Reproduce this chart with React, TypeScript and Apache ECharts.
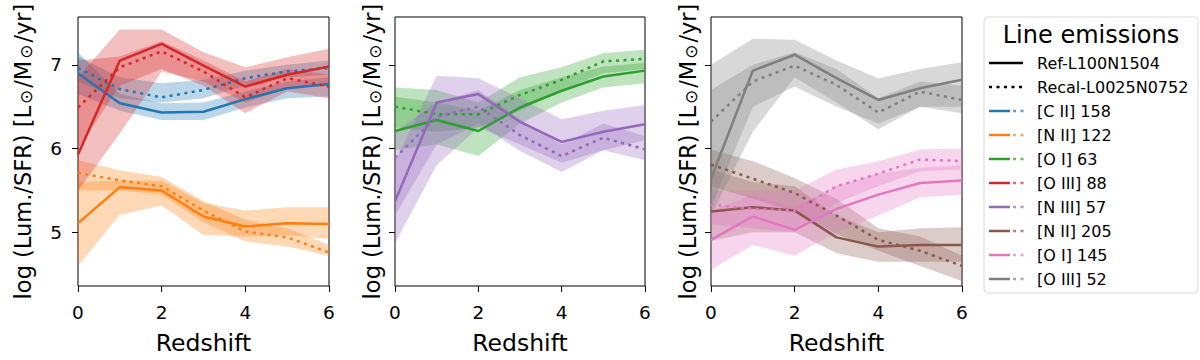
import React, { useEffect, useRef } from "react";
import * as echarts from "echarts";

const redshift = [0, 1, 2, 3, 4, 5, 6];
const yTicks = [5, 6, 7];
const xTicks = [0, 2, 4, 6];

// [C II] 158
const cii158Ref = [6.90, 6.54, 6.43, 6.44, 6.59, 6.72, 6.77];
const cii158Recal = [6.96, 6.71, 6.61, 6.70, 6.84, 6.92, 6.96];
const cii158RefLo = [6.65, 6.45, 6.34, 6.34, 6.49, 6.60, 6.62];
const cii158RefHi = [7.15, 6.65, 6.54, 6.55, 6.68, 6.80, 6.85];
const cii158RecalLo = [6.80, 6.60, 6.55, 6.60, 6.75, 6.85, 6.88];
const cii158RecalHi = [7.10, 6.85, 6.78, 6.82, 6.93, 7.00, 7.05];

// [N II] 122
const nii122Ref = [5.11, 5.54, 5.50, 5.19, 5.07, 5.11, 5.10];
const nii122Recal = [5.71, 5.62, 5.55, 5.26, 5.01, 4.94, 4.76];
const nii122RefLo = [4.60, 5.21, 5.32, 4.97, 4.95, 4.97, 4.92];
const nii122RefHi = [5.60, 5.62, 5.62, 5.35, 5.26, 5.30, 5.30];
const nii122RecalLo = [5.50, 5.50, 5.45, 5.12, 4.89, 4.83, 4.72];
const nii122RecalHi = [5.86, 5.74, 5.66, 5.37, 5.15, 5.05, 4.85];

// [O III] 88
const oiii88Ref = [5.93, 7.05, 7.25, 6.99, 6.74, 6.88, 6.98];
const oiii88Recal = [6.49, 6.97, 7.16, 6.92, 6.61, 6.84, 6.74];
const oiii88RefLo = [5.50, 6.18, 6.92, 6.80, 6.55, 6.72, 6.75];
const oiii88RefHi = [6.85, 7.42, 7.42, 7.15, 6.97, 7.09, 7.19];
const oiii88RecalLo = [6.00, 6.75, 6.95, 6.75, 6.42, 6.68, 6.60];
const oiii88RecalHi = [7.05, 7.10, 7.28, 7.05, 6.80, 6.95, 6.88];

// [O I] 63
const oi63Ref = [6.21, 6.34, 6.21, 6.49, 6.69, 6.86, 6.93];
const oi63Recal = [6.50, 6.41, 6.41, 6.64, 6.82, 7.04, 7.07];
const oi63RefLo = [5.98, 6.05, 5.91, 6.30, 6.55, 6.73, 6.78];
const oi63RefHi = [6.62, 6.55, 6.45, 6.70, 6.85, 6.98, 7.02];
const oi63RecalLo = [6.25, 6.20, 6.25, 6.45, 6.70, 6.90, 6.95];
const oi63RecalHi = [6.73, 6.70, 6.55, 6.85, 6.97, 7.14, 7.18];

// [N III] 57
const niii57Ref = [5.37, 6.55, 6.65, 6.32, 6.08, 6.20, 6.29];
const niii57Recal = [5.89, 6.38, 6.50, 6.16, 5.91, 6.13, 5.99];
const niii57RefLo = [4.87, 5.80, 6.25, 6.05, 5.83, 5.98, 6.10];
const niii57RefHi = [5.85, 6.87, 6.84, 6.60, 6.35, 6.45, 6.52];
const niii57RecalLo = [5.20, 6.05, 6.30, 5.97, 5.72, 5.98, 5.86];
const niii57RecalHi = [6.20, 6.55, 6.70, 6.35, 6.05, 6.30, 6.15];

// [N II] 205
const nii205Ref = [5.25, 5.30, 5.26, 4.94, 4.83, 4.85, 4.85];
const nii205Recal = [5.81, 5.64, 5.47, 5.20, 4.91, 4.78, 4.60];
const nii205RefLo = [4.90, 5.00, 5.00, 4.75, 4.65, 4.65, 4.65];
const nii205RefHi = [5.75, 5.60, 5.55, 5.20, 5.00, 5.05, 5.06];
const nii205RecalLo = [5.55, 5.40, 5.25, 4.98, 4.78, 4.60, 4.42];
const nii205RecalHi = [5.99, 5.85, 5.65, 5.40, 5.05, 4.95, 4.72];

// [O I] 145
const oi145Ref = [4.91, 5.19, 5.03, 5.28, 5.45, 5.59, 5.62];
const oi145Recal = [5.33, 5.28, 5.26, 5.55, 5.70, 5.87, 5.85];
const oi145RefLo = [4.55, 4.85, 4.72, 5.00, 5.20, 5.42, 5.45];
const oi145RefHi = [5.25, 5.45, 5.30, 5.55, 5.70, 5.77, 5.80];
const oi145RecalLo = [5.10, 5.05, 5.00, 5.35, 5.55, 5.73, 5.75];
const oi145RecalHi = [5.50, 5.50, 5.50, 5.75, 5.85, 5.99, 6.00];

// [O III] 52
const oiii52Ref = [5.64, 6.93, 7.12, 6.84, 6.58, 6.72, 6.82];
const oiii52Recal = [6.32, 6.80, 6.99, 6.76, 6.43, 6.68, 6.58];
const oiii52RefLo = [5.30, 6.50, 6.74, 6.50, 6.30, 6.50, 6.50];
const oiii52RefHi = [7.00, 7.31, 7.30, 7.05, 6.84, 6.95, 7.03];
const oiii52RecalLo = [5.20, 6.20, 6.85, 6.55, 6.23, 6.50, 6.42];
const oiii52RecalHi = [6.70, 7.00, 7.15, 6.95, 6.60, 6.80, 6.75];

const modelNames = ["Ref-L100N1504", "Recal-L0025N0752"];
const legendTitle = "Line emissions";

type Line = {
  name: string; color: string;
  ref: number[]; recal: number[];
  refLo: number[]; refHi: number[]; recalLo: number[]; recalHi: number[];
};

const lines: Line[] = [
  { name: "[C II] 158", color: "#1f77b4", ref: cii158Ref, recal: cii158Recal, refLo: cii158RefLo, refHi: cii158RefHi, recalLo: cii158RecalLo, recalHi: cii158RecalHi },
  { name: "[N II] 122", color: "#ff7f0e", ref: nii122Ref, recal: nii122Recal, refLo: nii122RefLo, refHi: nii122RefHi, recalLo: nii122RecalLo, recalHi: nii122RecalHi },
  { name: "[O I] 63", color: "#2ca02c", ref: oi63Ref, recal: oi63Recal, refLo: oi63RefLo, refHi: oi63RefHi, recalLo: oi63RecalLo, recalHi: oi63RecalHi },
  { name: "[O III] 88", color: "#d62728", ref: oiii88Ref, recal: oiii88Recal, refLo: oiii88RefLo, refHi: oiii88RefHi, recalLo: oiii88RecalLo, recalHi: oiii88RecalHi },
  { name: "[N III] 57", color: "#9467bd", ref: niii57Ref, recal: niii57Recal, refLo: niii57RefLo, refHi: niii57RefHi, recalLo: niii57RecalLo, recalHi: niii57RecalHi },
  { name: "[N II] 205", color: "#8c564b", ref: nii205Ref, recal: nii205Recal, refLo: nii205RefLo, refHi: nii205RefHi, recalLo: nii205RecalLo, recalHi: nii205RecalHi },
  { name: "[O I] 145", color: "#e377c2", ref: oi145Ref, recal: oi145Recal, refLo: oi145RefLo, refHi: oi145RefHi, recalLo: oi145RecalLo, recalHi: oi145RecalHi },
  { name: "[O III] 52", color: "#7f7f7f", ref: oiii52Ref, recal: oiii52Recal, refLo: oiii52RefLo, refHi: oiii52RefHi, recalLo: oiii52RecalLo, recalHi: oiii52RecalHi },
];

const panelLines = [
  ["[C II] 158", "[N II] 122", "[O III] 88"],
  ["[O I] 63", "[N III] 57"],
  ["[N II] 205", "[O I] 145", "[O III] 52"],
];

const FONT = "DejaVu Sans";
const DOT: number[] = [3, 4.5];

function bandSeries(p: number, lo: number[], hi: number[], color: string) {
  const rows = redshift.map((x, i) => [x, lo[i], hi[i]]);
  return {
    type: "custom", xAxisIndex: p, yAxisIndex: p, silent: true, z: 1,
    clip: true,
    encode: { x: 0, y: [1, 2] },
    data: rows,
    renderItem: (params: any, api: any) => {
      if (params.dataIndex !== 0) return null;
      const upper = rows.map((r) => api.coord([r[0], r[2]]));
      const lower = rows.map((r) => api.coord([r[0], r[1]])).reverse();
      return {
        type: "polygon",
        shape: { points: upper.concat(lower) },
        style: { fill: color, opacity: 0.3 },
      };
    },
  };
}

function buildOption() {
  const gridLefts = [78, 395, 711];
  const gridWidths = [251, 250, 251];
  const grids = gridLefts.map((l, i) => ({
    left: l, top: 17, width: gridWidths[i], height: 277,
    show: true, borderColor: "#000", borderWidth: 1, backgroundColor: "transparent",
  }));
  const xAxes = gridLefts.map((_, i) => ({
    gridIndex: i, type: "value", min: 0, max: 6, interval: 2,
    axisLine: { show: false },
    axisTick: { show: true, length: 6, lineStyle: { color: "#000", width: 1 }, customValues: xTicks },
    axisLabel: { fontSize: 18.5, color: "#000", margin: 17, fontFamily: FONT, customValues: xTicks },
    splitLine: { show: false },
    name: "Redshift", nameLocation: "middle", nameGap: 45,
    nameTextStyle: { fontSize: 23.5, color: "#000", fontFamily: FONT },
  }));
  const yName = "{n|log (Lum./SFR) [L}{s|⊙}{n|/M}{s|⊙}{n|/yr]}";
  const yAxes = gridLefts.map((_, i) => ({
    gridIndex: i, type: "value", min: 4.36, max: 7.57,
    axisLine: { show: false },
    axisTick: { show: true, length: 6, lineStyle: { color: "#000", width: 1 }, customValues: yTicks },
    axisLabel: { show: i === 0, fontSize: 18.5, color: "#000", margin: 16, fontFamily: FONT, customValues: yTicks },
    splitLine: { show: false },
    name: yName, nameLocation: "middle", nameGap: i === 0 ? 44 : 12,
    nameTextStyle: {
      color: "#000", fontFamily: FONT,
      rich: {
        n: { fontSize: 22.5, color: "#000", fontFamily: FONT },
        s: { fontSize: 17, color: "#000", fontFamily: FONT, verticalAlign: "bottom", padding: [0, 2, 0, 2] },
      },
    },
  }));

  const series: any[] = [];
  panelLines.forEach((names, p) => {
    names.forEach((nm) => {
      const L = lines.find((l) => l.name === nm)!;
      series.push(bandSeries(p, L.refLo, L.refHi, L.color));
      series.push(bandSeries(p, L.recalLo, L.recalHi, L.color));
    });
    names.forEach((nm) => {
      const L = lines.find((l) => l.name === nm)!;
      series.push({
        type: "line", xAxisIndex: p, yAxisIndex: p, name: nm,
        data: L.ref.map((v, i) => [redshift[i], v]),
        symbol: "none", lineStyle: { color: L.color, width: 2.5, type: "solid" }, z: 3,
      });
      series.push({
        type: "line", xAxisIndex: p, yAxisIndex: p, name: nm + " recal",
        data: L.recal.map((v, i) => [redshift[i], v]),
        symbol: "none", lineStyle: { color: L.color, width: 2.5, type: DOT }, z: 3,
      });
    });
  });

  // legend
  const lx0 = 989, lx1 = 1023, tx = 1037, y0 = 63, dy = 24;
  const g: any[] = [
    { type: "rect", shape: { x: 984, y: 17, width: 214, height: 276, r: 4 },
      style: { fill: "#fff", stroke: "#d9d9d9", lineWidth: 1 }, z: 10 },
    { type: "text", x: 1091, y: 35, style: { text: legendTitle, fontSize: 24, fontFamily: FONT, fill: "#000", align: "center", verticalAlign: "middle" }, z: 11 },
  ];
  modelNames.forEach((m, i) => {
    const y = y0 + dy * i;
    g.push({ type: "line", shape: { x1: lx0, y1: y, x2: lx1, y2: y },
      style: { stroke: "#000", lineWidth: 2.5, lineDash: i === 0 ? null : DOT }, z: 11 });
    g.push({ type: "text", x: tx, y, style: { text: m, fontSize: 16, fontFamily: FONT, fill: "#000", verticalAlign: "middle" }, z: 11 });
  });
  lines.forEach((L, i) => {
    const y = y0 + dy * (i + 2);
    g.push({ type: "line", shape: { x1: lx0, y1: y, x2: 1010, y2: y },
      style: { stroke: L.color, lineWidth: 2.5 }, z: 11 });
    g.push({ type: "line", shape: { x1: 1013, y1: y, x2: 1024, y2: y },
      style: { stroke: L.color, lineWidth: 2.5, lineDash: [3, 4.5], opacity: 0.7 }, z: 11 });
    g.push({ type: "text", x: tx, y, style: { text: L.name, fontSize: 16, fontFamily: FONT, fill: "#000", verticalAlign: "middle" }, z: 11 });
  });

  return {
    animation: false,
    backgroundColor: "#fff",
    textStyle: { fontFamily: FONT },
    grid: grids, xAxis: xAxes, yAxis: yAxes, series, graphic: g,
  };
}

export default function App() {
  const ref = useRef<HTMLDivElement>(null);
  useEffect(() => {
    if (!ref.current) return;
    const chart = echarts.init(ref.current, undefined, { renderer: "svg" });
    chart.setOption(buildOption() as any);
    return () => chart.dispose();
  }, []);
  return <div ref={ref} style={{ position: "fixed", left: 0, top: 0, width: 1200, height: 360 }} />;
}
